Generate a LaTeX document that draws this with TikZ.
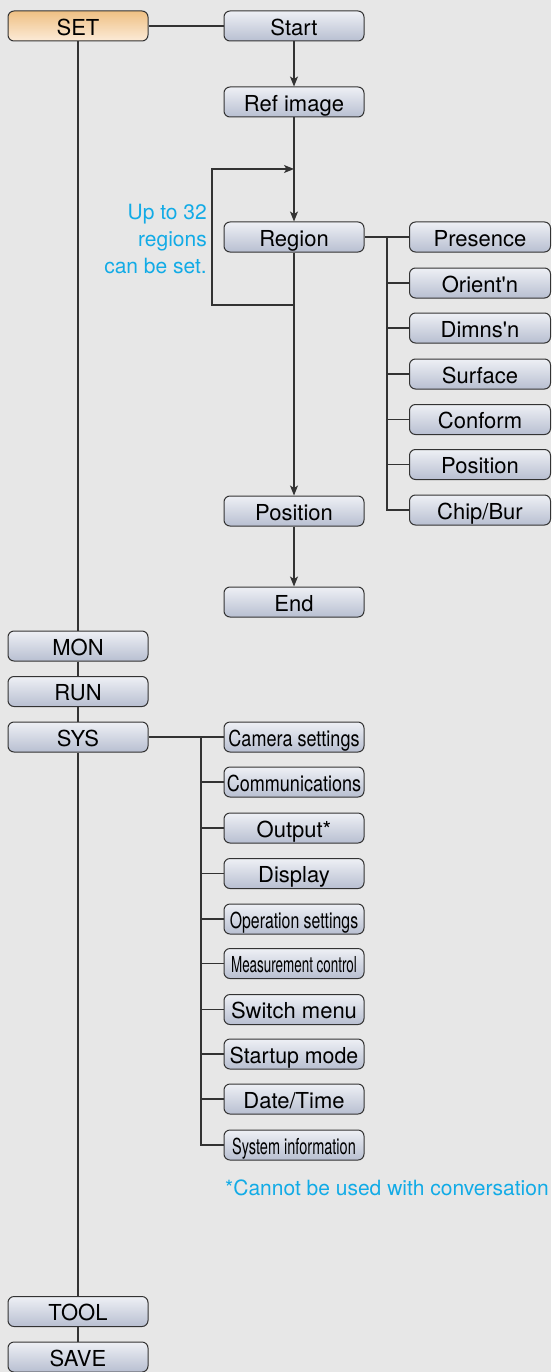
\documentclass[tikz,border=0pt]{standalone}
\usepackage{fontspec}
\setmainfont{TeX Gyre Heros}[Ligatures=TeXOff]
\usetikzlibrary{arrows.meta}
\definecolor{bg}{HTML}{E7E7E7}
\definecolor{cyantext}{HTML}{12ABE6}
\definecolor{boxtop}{HTML}{EEF0F5}
\definecolor{boxbot}{HTML}{B8BFD1}
\definecolor{settop}{HTML}{EFC083}
\definecolor{setbot}{HTML}{FCEBD8}
\definecolor{linecol}{HTML}{333333}
\tikzset{
  menubox/.style={rectangle, rounded corners=6pt, draw=linecol, line width=1pt,
    minimum width=140pt, minimum height=30pt, inner sep=0pt,
    text height=18.5pt, text depth=0pt,
    top color=boxtop, bottom color=boxbot,
    font=\fontsize{22}{22}\selectfont},
  setbox/.style={menubox, top color=settop, bottom color=setbot},
  subbox/.style={menubox, minimum width=141pt},
  conn/.style={draw=linecol, line width=1.3pt},
  arr/.style={conn, -{Stealth[length=10pt,width=8pt,inset=2.5pt]}},
  note/.style={text=cyantext, font=\fontsize{21}{27}\selectfont, inner sep=0pt}
}
\begin{document}
\begin{tikzpicture}[x=1pt,y=-1pt]
\fill[bg] (0,0) rectangle (551,1372);
\useasboundingbox (0,0) rectangle (551,1372);

% left column
\node[setbox] (set) at (78,26) {SET};
\node[menubox] (mon) at (78,646) {MON};
\node[menubox] (run) at (78,691.5) {RUN};
\node[menubox] (sys) at (78,737) {SYS};
\node[menubox] (tool) at (78,1311.5) {TOOL};
\node[menubox] (save) at (78,1357) {SAVE};

% SET flow
\node[menubox] (start) at (294,26) {Start};
\node[menubox] (ref) at (294,102) {Ref image};
\node[menubox] (region) at (294,237) {Region};
\node[menubox] (pos) at (294,511) {Position};
\node[menubox] (end) at (294,602) {End};

% region items
\node[subbox] (pres) at (480,237) {Presence};
\node[subbox] (orient) at (480,283) {Orient'n};
\node[subbox] (dimns) at (480,328) {Dimns'n};
\node[subbox] (surf) at (480,374) {Surface};
\node[subbox] (conf) at (480,419.5) {Conform};
\node[subbox] (rpos) at (480,464.5) {Position};
\node[subbox] (chip) at (480,510) {Chip/Bur};

% SYS items
\node[menubox] (cam) at (294,737) {\scalebox{0.82}[1]{Camera settings}};
\node[menubox] (comm) at (294,782) {\scalebox{0.82}[1]{Communications}};
\node[menubox] (out) at (294,828) {Output*};
\node[menubox] (disp) at (294,873.5) {Display};
\node[menubox] (oper) at (294,919) {\scalebox{0.72}[1]{Operation settings}};
\node[menubox] (meas) at (294,963.5) {\scalebox{0.61}[1]{Measurement control}};
\node[menubox] (swm) at (294,1009.5) {Switch menu};
\node[menubox] (stm) at (294,1054) {\scalebox{0.97}[1]{Startup mode}};
\node[menubox] (dt) at (294,1099) {Date/Time};
\node[menubox] (sinfo) at (294,1145) {\scalebox{0.66}[1]{System information}};

% notes
\node[note, align=right, anchor=east] (loopnote) at (207,239) {Up to 32\\regions\\can be set.};
\node[note, anchor=base west] (foot) at (225,1195) {*Cannot be used with conversation};

% left spine
\draw[conn] (set.south) -- (mon.north);
\draw[conn] (mon.south) -- (run.north);
\draw[conn] (run.south) -- (sys.north);
\draw[conn] (sys.south) -- (tool.north);
\draw[conn] (tool.south) -- (save.north);

% SET flow
\draw[conn] (set.east) -- (start.west);
\draw[arr] (start.south) -- (ref.north);
\draw[arr] (ref.south) -- (region.north);
\draw[arr] (region.south) -- (pos.north);
\draw[arr] (pos.south) -- (end.north);
\coordinate (loopbot) at (294,305);
\coordinate (looptop) at (294,169);
\draw[arr] (loopbot) -- (212,305) -- (212,169) -- (looptop);

% region branch
\coordinate (rb) at (387,237);
\draw[conn] (region.east) -- (pres.west);
\draw[conn] (rb) |- (chip.west);
\foreach \n in {orient,dimns,surf,conf,rpos}
  \draw[conn] (rb |- \n.west) -- (\n.west);

% SYS branch
\coordinate (sb) at (201,737);
\draw[conn] (sys.east) -- (cam.west);
\draw[conn] (sb) |- (sinfo.west);
\foreach \n in {comm,out,disp,oper,meas,swm,stm,dt}
  \draw[conn] (sb |- \n.west) -- (\n.west);
\end{tikzpicture}
\end{document}
